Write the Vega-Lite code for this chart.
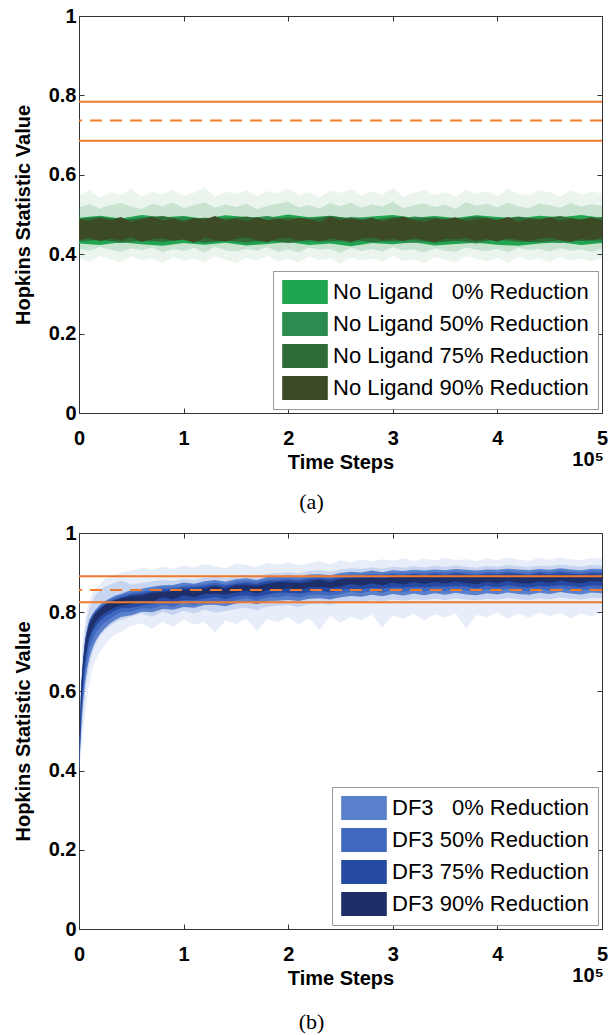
{
"$schema": "https://vega.github.io/schema/vega-lite/v6.json",
"background": "white",
"padding": {"left": 12, "top": 5, "right": 4, "bottom": 4},
"config": {
  "view": {"stroke": "#333", "strokeWidth": 1},
  "font": "Liberation Sans",
  "axis": {"grid": false, "domain": false, "tickSize": -5, "tickColor": "#333", "labelFont": "Liberation Sans", "labelFontSize": 20, "labelFontWeight": "bold", "labelColor": "#000", "titleFont": "Liberation Sans", "titleFontSize": 20, "titleFontWeight": "bold", "titleColor": "#000", "labelFlush": false, "labelOverlap": false},
  "legend": {"title": null, "orient": "bottom-right", "offset": 4, "symbolType": "M-1.9,-1H1.9V1H-1.9Z", "symbolSize": 576, "symbolStrokeWidth": 0, "symbolOpacity": 1, "symbolOffset": 11, "labelOffset": 16, "labelFont": "Liberation Sans", "labelFontSize": 22, "labelColor": "#000", "labelLimit": 400, "rowPadding": 8, "padding": 9, "strokeColor": "#999", "fillColor": "white"}
},
"bounds": "flush",
"spacing": 120,
"resolve": {"scale": {"color": "independent"}},
"datasets": {
"topS": [
{"g":"0","t":0,"lo":0.427,"hi":0.492},{"g":"0","t":0.2,"lo":0.423,"hi":0.497},{"g":"0","t":0.4,"lo":0.430,"hi":0.490},{"g":"0","t":0.6,"lo":0.425,"hi":0.499},{"g":"0","t":0.8,"lo":0.421,"hi":0.493},{"g":"0","t":1.0,"lo":0.428,"hi":0.496},{"g":"0","t":1.2,"lo":0.424,"hi":0.489},{"g":"0","t":1.4,"lo":0.429,"hi":0.498},{"g":"0","t":1.6,"lo":0.422,"hi":0.494},{"g":"0","t":1.8,"lo":0.426,"hi":0.491},{"g":"0","t":2.0,"lo":0.431,"hi":0.500},{"g":"0","t":2.2,"lo":0.423,"hi":0.493},{"g":"0","t":2.4,"lo":0.427,"hi":0.497},{"g":"0","t":2.6,"lo":0.420,"hi":0.490},{"g":"0","t":2.8,"lo":0.428,"hi":0.495},{"g":"0","t":3.0,"lo":0.425,"hi":0.499},{"g":"0","t":3.2,"lo":0.430,"hi":0.492},{"g":"0","t":3.4,"lo":0.422,"hi":0.496},{"g":"0","t":3.6,"lo":0.426,"hi":0.491},{"g":"0","t":3.8,"lo":0.429,"hi":0.498},{"g":"0","t":4.0,"lo":0.424,"hi":0.494},{"g":"0","t":4.2,"lo":0.421,"hi":0.490},{"g":"0","t":4.4,"lo":0.427,"hi":0.497},{"g":"0","t":4.6,"lo":0.430,"hi":0.493},{"g":"0","t":4.8,"lo":0.423,"hi":0.499},{"g":"0","t":5.0,"lo":0.428,"hi":0.492},
{"g":"50","t":0,"lo":0.431,"hi":0.490},{"g":"50","t":0.2,"lo":0.435,"hi":0.494},{"g":"50","t":0.4,"lo":0.428,"hi":0.487},{"g":"50","t":0.6,"lo":0.433,"hi":0.493},{"g":"50","t":0.8,"lo":0.430,"hi":0.489},{"g":"50","t":1.0,"lo":0.436,"hi":0.495},{"g":"50","t":1.2,"lo":0.429,"hi":0.486},{"g":"50","t":1.4,"lo":0.434,"hi":0.492},{"g":"50","t":1.6,"lo":0.427,"hi":0.490},{"g":"50","t":1.8,"lo":0.432,"hi":0.496},{"g":"50","t":2.0,"lo":0.435,"hi":0.488},{"g":"50","t":2.2,"lo":0.430,"hi":0.493},{"g":"50","t":2.4,"lo":0.433,"hi":0.487},{"g":"50","t":2.6,"lo":0.428,"hi":0.494},{"g":"50","t":2.8,"lo":0.436,"hi":0.490},{"g":"50","t":3.0,"lo":0.431,"hi":0.486},{"g":"50","t":3.2,"lo":0.429,"hi":0.495},{"g":"50","t":3.4,"lo":0.434,"hi":0.491},{"g":"50","t":3.6,"lo":0.432,"hi":0.488},{"g":"50","t":3.8,"lo":0.427,"hi":0.493},{"g":"50","t":4.0,"lo":0.435,"hi":0.489},{"g":"50","t":4.2,"lo":0.430,"hi":0.495},{"g":"50","t":4.4,"lo":0.433,"hi":0.487},{"g":"50","t":4.6,"lo":0.428,"hi":0.492},{"g":"50","t":4.8,"lo":0.434,"hi":0.490},{"g":"50","t":5.0,"lo":0.431,"hi":0.494},
{"g":"75","t":0,"lo":0.433,"hi":0.488},{"g":"75","t":0.2,"lo":0.437,"hi":0.494},{"g":"75","t":0.4,"lo":0.430,"hi":0.486},{"g":"75","t":0.6,"lo":0.435,"hi":0.491},{"g":"75","t":0.8,"lo":0.432,"hi":0.496},{"g":"75","t":1.0,"lo":0.438,"hi":0.487},{"g":"75","t":1.2,"lo":0.429,"hi":0.492},{"g":"75","t":1.4,"lo":0.434,"hi":0.489},{"g":"75","t":1.6,"lo":0.431,"hi":0.495},{"g":"75","t":1.8,"lo":0.436,"hi":0.485},{"g":"75","t":2.0,"lo":0.428,"hi":0.493},{"g":"75","t":2.2,"lo":0.435,"hi":0.488},{"g":"75","t":2.4,"lo":0.432,"hi":0.496},{"g":"75","t":2.6,"lo":0.437,"hi":0.490},{"g":"75","t":2.8,"lo":0.430,"hi":0.486},{"g":"75","t":3.0,"lo":0.433,"hi":0.494},{"g":"75","t":3.2,"lo":0.436,"hi":0.489},{"g":"75","t":3.4,"lo":0.429,"hi":0.492},{"g":"75","t":3.6,"lo":0.434,"hi":0.487},{"g":"75","t":3.8,"lo":0.431,"hi":0.495},{"g":"75","t":4.0,"lo":0.438,"hi":0.488},{"g":"75","t":4.2,"lo":0.432,"hi":0.493},{"g":"75","t":4.4,"lo":0.430,"hi":0.490},{"g":"75","t":4.6,"lo":0.435,"hi":0.496},{"g":"75","t":4.8,"lo":0.433,"hi":0.486},{"g":"75","t":5.0,"lo":0.436,"hi":0.491},
{"g":"90","t":0,"lo":0.436,"hi":0.489},{"g":"90","t":0.1,"lo":0.441,"hi":0.483},{"g":"90","t":0.2,"lo":0.433,"hi":0.492},{"g":"90","t":0.3,"lo":0.439,"hi":0.486},{"g":"90","t":0.4,"lo":0.435,"hi":0.494},{"g":"90","t":0.5,"lo":0.442,"hi":0.481},{"g":"90","t":0.6,"lo":0.431,"hi":0.488},{"g":"90","t":0.7,"lo":0.438,"hi":0.495},{"g":"90","t":0.8,"lo":0.440,"hi":0.484},{"g":"90","t":0.9,"lo":0.434,"hi":0.490},{"g":"90","t":1.0,"lo":0.437,"hi":0.482},{"g":"90","t":1.1,"lo":0.429,"hi":0.491},{"g":"90","t":1.2,"lo":0.441,"hi":0.487},{"g":"90","t":1.3,"lo":0.436,"hi":0.496},{"g":"90","t":1.4,"lo":0.432,"hi":0.485},{"g":"90","t":1.5,"lo":0.439,"hi":0.489},{"g":"90","t":1.6,"lo":0.443,"hi":0.483},{"g":"90","t":1.7,"lo":0.435,"hi":0.493},{"g":"90","t":1.8,"lo":0.430,"hi":0.486},{"g":"90","t":1.9,"lo":0.438,"hi":0.490},{"g":"90","t":2.0,"lo":0.441,"hi":0.484},{"g":"90","t":2.1,"lo":0.434,"hi":0.492},{"g":"90","t":2.2,"lo":0.437,"hi":0.488},{"g":"90","t":2.3,"lo":0.432,"hi":0.481},{"g":"90","t":2.4,"lo":0.440,"hi":0.494},{"g":"90","t":2.5,"lo":0.436,"hi":0.487},{"g":"90","t":2.6,"lo":0.431,"hi":0.490},{"g":"90","t":2.7,"lo":0.439,"hi":0.485},{"g":"90","t":2.8,"lo":0.442,"hi":0.492},{"g":"90","t":2.9,"lo":0.435,"hi":0.483},{"g":"90","t":3.0,"lo":0.438,"hi":0.489},{"g":"90","t":3.1,"lo":0.433,"hi":0.495},{"g":"90","t":3.2,"lo":0.440,"hi":0.486},{"g":"90","t":3.3,"lo":0.436,"hi":0.481},{"g":"90","t":3.4,"lo":0.430,"hi":0.490},{"g":"90","t":3.5,"lo":0.439,"hi":0.488},{"g":"90","t":3.6,"lo":0.437,"hi":0.493},{"g":"90","t":3.7,"lo":0.441,"hi":0.484},{"g":"90","t":3.8,"lo":0.434,"hi":0.487},{"g":"90","t":3.9,"lo":0.438,"hi":0.491},{"g":"90","t":4.0,"lo":0.432,"hi":0.485},{"g":"90","t":4.1,"lo":0.440,"hi":0.494},{"g":"90","t":4.2,"lo":0.436,"hi":0.482},{"g":"90","t":4.3,"lo":0.433,"hi":0.489},{"g":"90","t":4.4,"lo":0.439,"hi":0.486},{"g":"90","t":4.5,"lo":0.442,"hi":0.492},{"g":"90","t":4.6,"lo":0.435,"hi":0.484},{"g":"90","t":4.7,"lo":0.431,"hi":0.490},{"g":"90","t":4.8,"lo":0.438,"hi":0.487},{"g":"90","t":4.9,"lo":0.436,"hi":0.493},{"g":"90","t":5.0,"lo":0.440,"hi":0.485}
],
"topC": [
{"t":0,"a":0.392,"b":0.548,"c":0.414,"d":0.518},{"t":0.1,"a":0.381,"b":0.561,"c":0.409,"d":0.526},{"t":0.2,"a":0.396,"b":0.542,"c":0.418,"d":0.515},{"t":0.3,"a":0.387,"b":0.556,"c":0.411,"d":0.523},{"t":0.4,"a":0.379,"b":0.549,"c":0.406,"d":0.529},{"t":0.5,"a":0.394,"b":0.565,"c":0.415,"d":0.520},{"t":0.6,"a":0.385,"b":0.545,"c":0.410,"d":0.514},{"t":0.7,"a":0.390,"b":0.558,"c":0.417,"d":0.527},{"t":0.8,"a":0.377,"b":0.551,"c":0.405,"d":0.521},{"t":0.9,"a":0.393,"b":0.563,"c":0.413,"d":0.530},{"t":1.0,"a":0.384,"b":0.547,"c":0.408,"d":0.516},{"t":1.1,"a":0.389,"b":0.555,"c":0.416,"d":0.524},{"t":1.2,"a":0.380,"b":0.568,"c":0.404,"d":0.531},{"t":1.3,"a":0.395,"b":0.544,"c":0.419,"d":0.517},{"t":1.4,"a":0.386,"b":0.557,"c":0.410,"d":0.525},{"t":1.5,"a":0.378,"b":0.552,"c":0.407,"d":0.519},{"t":1.6,"a":0.391,"b":0.562,"c":0.414,"d":0.528},{"t":1.7,"a":0.383,"b":0.546,"c":0.409,"d":0.513},{"t":1.8,"a":0.397,"b":0.559,"c":0.418,"d":0.522},{"t":1.9,"a":0.382,"b":0.553,"c":0.406,"d":0.527},{"t":2.0,"a":0.388,"b":0.566,"c":0.412,"d":0.532},{"t":2.1,"a":0.379,"b":0.548,"c":0.405,"d":0.518},{"t":2.2,"a":0.394,"b":0.556,"c":0.417,"d":0.524},{"t":2.3,"a":0.385,"b":0.543,"c":0.411,"d":0.515},{"t":2.4,"a":0.390,"b":0.561,"c":0.414,"d":0.529},{"t":2.5,"a":0.376,"b":0.554,"c":0.403,"d":0.521},{"t":2.6,"a":0.392,"b":0.564,"c":0.416,"d":0.530},{"t":2.7,"a":0.384,"b":0.547,"c":0.408,"d":0.517},{"t":2.8,"a":0.389,"b":0.558,"c":0.413,"d":0.526},{"t":2.9,"a":0.381,"b":0.550,"c":0.407,"d":0.520},{"t":3.0,"a":0.396,"b":0.567,"c":0.418,"d":0.533},{"t":3.1,"a":0.383,"b":0.545,"c":0.410,"d":0.516},{"t":3.2,"a":0.387,"b":0.555,"c":0.412,"d":0.523},{"t":3.3,"a":0.378,"b":0.562,"c":0.404,"d":0.528},{"t":3.4,"a":0.393,"b":0.549,"c":0.415,"d":0.519},{"t":3.5,"a":0.386,"b":0.557,"c":0.409,"d":0.525},{"t":3.6,"a":0.380,"b":0.544,"c":0.406,"d":0.514},{"t":3.7,"a":0.395,"b":0.563,"c":0.417,"d":0.531},{"t":3.8,"a":0.388,"b":0.552,"c":0.411,"d":0.522},{"t":3.9,"a":0.382,"b":0.559,"c":0.408,"d":0.527},{"t":4.0,"a":0.391,"b":0.546,"c":0.414,"d":0.518},{"t":4.1,"a":0.377,"b":0.565,"c":0.405,"d":0.530},{"t":4.2,"a":0.394,"b":0.553,"c":0.416,"d":0.521},{"t":4.3,"a":0.385,"b":0.548,"c":0.410,"d":0.516},{"t":4.4,"a":0.390,"b":0.561,"c":0.413,"d":0.528},{"t":4.5,"a":0.379,"b":0.556,"c":0.407,"d":0.524},{"t":4.6,"a":0.393,"b":0.545,"c":0.415,"d":0.517},{"t":4.7,"a":0.384,"b":0.562,"c":0.409,"d":0.529},{"t":4.8,"a":0.389,"b":0.550,"c":0.412,"d":0.520},{"t":4.9,"a":0.381,"b":0.558,"c":0.406,"d":0.526},{"t":5.0,"a":0.392,"b":0.553,"c":0.414,"d":0.522}
],
"botS": [
{"g":"0","t":0,"lo":0.395,"hi":0.405},{"g":"0","t":0.02,"lo":0.50,"hi":0.60},{"g":"0","t":0.04,"lo":0.575,"hi":0.68},{"g":"0","t":0.06,"lo":0.625,"hi":0.73},{"g":"0","t":0.08,"lo":0.66,"hi":0.76},{"g":"0","t":0.10,"lo":0.685,"hi":0.78},{"g":"0","t":0.13,"lo":0.71,"hi":0.795},{"g":"0","t":0.16,"lo":0.728,"hi":0.807},{"g":"0","t":0.20,"lo":0.745,"hi":0.818},{"g":"0","t":0.25,"lo":0.76,"hi":0.828},{"g":"0","t":0.30,"lo":0.772,"hi":0.836},{"g":"0","t":0.35,"lo":0.781,"hi":0.842},{"g":"0","t":0.40,"lo":0.788,"hi":0.846},
{"g":"0","t":0.5,"lo":0.792,"hi":0.856},{"g":"0","t":0.6,"lo":0.801,"hi":0.859},{"g":"0","t":0.7,"lo":0.800,"hi":0.864},{"g":"0","t":0.8,"lo":0.808,"hi":0.868},{"g":"0","t":0.9,"lo":0.806,"hi":0.869},{"g":"0","t":1.0,"lo":0.813,"hi":0.875},{"g":"0","t":1.1,"lo":0.811,"hi":0.872},{"g":"0","t":1.2,"lo":0.818,"hi":0.878},{"g":"0","t":1.3,"lo":0.819,"hi":0.881},{"g":"0","t":1.4,"lo":0.815,"hi":0.877},{"g":"0","t":1.5,"lo":0.822,"hi":0.883},{"g":"0","t":1.6,"lo":0.825,"hi":0.886},{"g":"0","t":1.7,"lo":0.820,"hi":0.881},{"g":"0","t":1.8,"lo":0.828,"hi":0.889},{"g":"0","t":1.9,"lo":0.829,"hi":0.890},{"g":"0","t":2.0,"lo":0.831,"hi":0.893},{"g":"0","t":2.1,"lo":0.828,"hi":0.889},{"g":"0","t":2.2,"lo":0.834,"hi":0.895},{"g":"0","t":2.3,"lo":0.835,"hi":0.896},{"g":"0","t":2.4,"lo":0.832,"hi":0.893},{"g":"0","t":2.5,"lo":0.838,"hi":0.899},{"g":"0","t":2.6,"lo":0.841,"hi":0.902},{"g":"0","t":2.7,"lo":0.839,"hi":0.900},{"g":"0","t":2.8,"lo":0.844,"hi":0.905},{"g":"0","t":2.9,"lo":0.840,"hi":0.901},{"g":"0","t":3.0,"lo":0.846,"hi":0.906},{"g":"0","t":3.1,"lo":0.842,"hi":0.904},{"g":"0","t":3.2,"lo":0.847,"hi":0.907},{"g":"0","t":3.3,"lo":0.843,"hi":0.905},{"g":"0","t":3.4,"lo":0.848,"hi":0.908},{"g":"0","t":3.5,"lo":0.844,"hi":0.906},{"g":"0","t":3.6,"lo":0.849,"hi":0.909},{"g":"0","t":3.7,"lo":0.845,"hi":0.907},{"g":"0","t":3.8,"lo":0.843,"hi":0.905},{"g":"0","t":3.9,"lo":0.848,"hi":0.908},{"g":"0","t":4.0,"lo":0.845,"hi":0.907},{"g":"0","t":4.1,"lo":0.850,"hi":0.910},{"g":"0","t":4.2,"lo":0.846,"hi":0.908},{"g":"0","t":4.3,"lo":0.844,"hi":0.906},{"g":"0","t":4.4,"lo":0.849,"hi":0.909},{"g":"0","t":4.5,"lo":0.846,"hi":0.907},{"g":"0","t":4.6,"lo":0.851,"hi":0.911},{"g":"0","t":4.7,"lo":0.847,"hi":0.908},{"g":"0","t":4.8,"lo":0.845,"hi":0.906},{"g":"0","t":4.9,"lo":0.850,"hi":0.910},{"g":"0","t":5.0,"lo":0.848,"hi":0.909},
{"g":"50","t":0,"lo":0.396,"hi":0.404},{"g":"50","t":0.02,"lo":0.52,"hi":0.61},{"g":"50","t":0.04,"lo":0.60,"hi":0.685},{"g":"50","t":0.06,"lo":0.65,"hi":0.735},{"g":"50","t":0.08,"lo":0.685,"hi":0.76},{"g":"50","t":0.10,"lo":0.71,"hi":0.78},{"g":"50","t":0.13,"lo":0.73,"hi":0.795},{"g":"50","t":0.16,"lo":0.748,"hi":0.805},{"g":"50","t":0.20,"lo":0.762,"hi":0.815},{"g":"50","t":0.25,"lo":0.775,"hi":0.825},{"g":"50","t":0.30,"lo":0.785,"hi":0.832},{"g":"50","t":0.35,"lo":0.793,"hi":0.838},{"g":"50","t":0.40,"lo":0.80,"hi":0.842},
{"g":"50","t":0.5,"lo":0.801,"hi":0.850},{"g":"50","t":0.6,"lo":0.810,"hi":0.853},{"g":"50","t":0.7,"lo":0.809,"hi":0.857},{"g":"50","t":0.8,"lo":0.819,"hi":0.862},{"g":"50","t":0.9,"lo":0.814,"hi":0.863},{"g":"50","t":1.0,"lo":0.824,"hi":0.867},{"g":"50","t":1.1,"lo":0.819,"hi":0.868},{"g":"50","t":1.2,"lo":0.827,"hi":0.870},{"g":"50","t":1.3,"lo":0.828,"hi":0.875},{"g":"50","t":1.4,"lo":0.826,"hi":0.870},{"g":"50","t":1.5,"lo":0.830,"hi":0.877},{"g":"50","t":1.6,"lo":0.836,"hi":0.879},{"g":"50","t":1.7,"lo":0.829,"hi":0.876},{"g":"50","t":1.8,"lo":0.838,"hi":0.882},{"g":"50","t":1.9,"lo":0.838,"hi":0.885},{"g":"50","t":2.0,"lo":0.842,"hi":0.885},{"g":"50","t":2.1,"lo":0.837,"hi":0.884},{"g":"50","t":2.2,"lo":0.844,"hi":0.887},{"g":"50","t":2.3,"lo":0.844,"hi":0.891},{"g":"50","t":2.4,"lo":0.843,"hi":0.886},{"g":"50","t":2.5,"lo":0.846,"hi":0.893},{"g":"50","t":2.6,"lo":0.852,"hi":0.895},{"g":"50","t":2.7,"lo":0.848,"hi":0.895},{"g":"50","t":2.8,"lo":0.854,"hi":0.897},{"g":"50","t":2.9,"lo":0.849,"hi":0.896},{"g":"50","t":3.0,"lo":0.856,"hi":0.899},{"g":"50","t":3.1,"lo":0.851,"hi":0.898},{"g":"50","t":3.2,"lo":0.857,"hi":0.900},{"g":"50","t":3.3,"lo":0.852,"hi":0.899},{"g":"50","t":3.4,"lo":0.858,"hi":0.901},{"g":"50","t":3.5,"lo":0.853,"hi":0.900},{"g":"50","t":3.6,"lo":0.859,"hi":0.902},{"g":"50","t":3.7,"lo":0.854,"hi":0.901},{"g":"50","t":3.8,"lo":0.852,"hi":0.898},{"g":"50","t":3.9,"lo":0.858,"hi":0.902},{"g":"50","t":4.0,"lo":0.854,"hi":0.900},{"g":"50","t":4.1,"lo":0.860,"hi":0.904},{"g":"50","t":4.2,"lo":0.855,"hi":0.901},{"g":"50","t":4.3,"lo":0.853,"hi":0.899},{"g":"50","t":4.4,"lo":0.859,"hi":0.903},{"g":"50","t":4.5,"lo":0.855,"hi":0.901},{"g":"50","t":4.6,"lo":0.861,"hi":0.905},{"g":"50","t":4.7,"lo":0.856,"hi":0.902},{"g":"50","t":4.8,"lo":0.854,"hi":0.900},{"g":"50","t":4.9,"lo":0.860,"hi":0.904},{"g":"50","t":5.0,"lo":0.858,"hi":0.903},
{"g":"75","t":0,"lo":0.397,"hi":0.403},{"g":"75","t":0.02,"lo":0.54,"hi":0.61},{"g":"75","t":0.04,"lo":0.62,"hi":0.68},{"g":"75","t":0.06,"lo":0.67,"hi":0.73},{"g":"75","t":0.08,"lo":0.705,"hi":0.755},{"g":"75","t":0.10,"lo":0.73,"hi":0.775},{"g":"75","t":0.13,"lo":0.75,"hi":0.79},{"g":"75","t":0.16,"lo":0.765,"hi":0.80},{"g":"75","t":0.20,"lo":0.778,"hi":0.81},{"g":"75","t":0.25,"lo":0.79,"hi":0.82},{"g":"75","t":0.30,"lo":0.797,"hi":0.828},{"g":"75","t":0.35,"lo":0.805,"hi":0.833},{"g":"75","t":0.40,"lo":0.81,"hi":0.837},
{"g":"75","t":0.5,"lo":0.811,"hi":0.845},{"g":"75","t":0.6,"lo":0.817,"hi":0.848},{"g":"75","t":0.7,"lo":0.821,"hi":0.853},{"g":"75","t":0.8,"lo":0.826,"hi":0.857},{"g":"75","t":0.9,"lo":0.825,"hi":0.858},{"g":"75","t":1.0,"lo":0.831,"hi":0.862},{"g":"75","t":1.1,"lo":0.830,"hi":0.863},{"g":"75","t":1.2,"lo":0.834,"hi":0.866},{"g":"75","t":1.3,"lo":0.839,"hi":0.870},{"g":"75","t":1.4,"lo":0.833,"hi":0.866},{"g":"75","t":1.5,"lo":0.840,"hi":0.872},{"g":"75","t":1.6,"lo":0.843,"hi":0.874},{"g":"75","t":1.7,"lo":0.839,"hi":0.871},{"g":"75","t":1.8,"lo":0.845,"hi":0.878},{"g":"75","t":1.9,"lo":0.849,"hi":0.879},{"g":"75","t":2.0,"lo":0.849,"hi":0.881},{"g":"75","t":2.1,"lo":0.847,"hi":0.879},{"g":"75","t":2.2,"lo":0.851,"hi":0.884},{"g":"75","t":2.3,"lo":0.855,"hi":0.885},{"g":"75","t":2.4,"lo":0.850,"hi":0.883},{"g":"75","t":2.5,"lo":0.857,"hi":0.887},{"g":"75","t":2.6,"lo":0.859,"hi":0.890},{"g":"75","t":2.7,"lo":0.858,"hi":0.890},{"g":"75","t":2.8,"lo":0.861,"hi":0.893},{"g":"75","t":2.9,"lo":0.860,"hi":0.891},{"g":"75","t":3.0,"lo":0.863,"hi":0.895},{"g":"75","t":3.1,"lo":0.862,"hi":0.892},{"g":"75","t":3.2,"lo":0.864,"hi":0.897},{"g":"75","t":3.3,"lo":0.863,"hi":0.893},{"g":"75","t":3.4,"lo":0.865,"hi":0.898},{"g":"75","t":3.5,"lo":0.864,"hi":0.894},{"g":"75","t":3.6,"lo":0.866,"hi":0.899},{"g":"75","t":3.7,"lo":0.865,"hi":0.895},{"g":"75","t":3.8,"lo":0.861,"hi":0.894},{"g":"75","t":3.9,"lo":0.867,"hi":0.897},{"g":"75","t":4.0,"lo":0.863,"hi":0.896},{"g":"75","t":4.1,"lo":0.868,"hi":0.899},{"g":"75","t":4.2,"lo":0.864,"hi":0.897},{"g":"75","t":4.3,"lo":0.863,"hi":0.894},{"g":"75","t":4.4,"lo":0.866,"hi":0.899},{"g":"75","t":4.5,"lo":0.865,"hi":0.896},{"g":"75","t":4.6,"lo":0.868,"hi":0.900},{"g":"75","t":4.7,"lo":0.866,"hi":0.897},{"g":"75","t":4.8,"lo":0.863,"hi":0.896},{"g":"75","t":4.9,"lo":0.868,"hi":0.899},{"g":"75","t":5.0,"lo":0.866,"hi":0.898},
{"g":"90","t":0,"lo":0.398,"hi":0.402},{"g":"90","t":0.02,"lo":0.56,"hi":0.60},{"g":"90","t":0.04,"lo":0.645,"hi":0.675},{"g":"90","t":0.06,"lo":0.69,"hi":0.72},{"g":"90","t":0.08,"lo":0.72,"hi":0.75},{"g":"90","t":0.10,"lo":0.742,"hi":0.768},{"g":"90","t":0.13,"lo":0.76,"hi":0.784},{"g":"90","t":0.16,"lo":0.776,"hi":0.798},{"g":"90","t":0.20,"lo":0.788,"hi":0.808},{"g":"90","t":0.25,"lo":0.799,"hi":0.818},{"g":"90","t":0.30,"lo":0.806,"hi":0.825},{"g":"90","t":0.35,"lo":0.813,"hi":0.831},{"g":"90","t":0.40,"lo":0.817,"hi":0.835},
{"g":"90","t":0.5,"lo":0.821,"hi":0.840},{"g":"90","t":0.6,"lo":0.829,"hi":0.843},{"g":"90","t":0.7,"lo":0.827,"hi":0.849},{"g":"90","t":0.8,"lo":0.838,"hi":0.851},{"g":"90","t":0.9,"lo":0.833,"hi":0.853},{"g":"90","t":1.0,"lo":0.843,"hi":0.857},{"g":"90","t":1.1,"lo":0.838,"hi":0.858},{"g":"90","t":1.2,"lo":0.846,"hi":0.860},{"g":"90","t":1.3,"lo":0.847,"hi":0.866},{"g":"90","t":1.4,"lo":0.845,"hi":0.859},{"g":"90","t":1.5,"lo":0.849,"hi":0.868},{"g":"90","t":1.6,"lo":0.855,"hi":0.869},{"g":"90","t":1.7,"lo":0.847,"hi":0.866},{"g":"90","t":1.8,"lo":0.857,"hi":0.871},{"g":"90","t":1.9,"lo":0.857,"hi":0.876},{"g":"90","t":2.0,"lo":0.861,"hi":0.875},{"g":"90","t":2.1,"lo":0.855,"hi":0.874},{"g":"90","t":2.2,"lo":0.863,"hi":0.877},{"g":"90","t":2.3,"lo":0.863,"hi":0.882},{"g":"90","t":2.4,"lo":0.862,"hi":0.876},{"g":"90","t":2.5,"lo":0.865,"hi":0.883},{"g":"90","t":2.6,"lo":0.871,"hi":0.885},{"g":"90","t":2.7,"lo":0.867,"hi":0.886},{"g":"90","t":2.8,"lo":0.873,"hi":0.887},{"g":"90","t":2.9,"lo":0.868,"hi":0.886},{"g":"90","t":3.0,"lo":0.875,"hi":0.889},{"g":"90","t":3.1,"lo":0.870,"hi":0.888},{"g":"90","t":3.2,"lo":0.876,"hi":0.890},{"g":"90","t":3.3,"lo":0.871,"hi":0.889},{"g":"90","t":3.4,"lo":0.877,"hi":0.891},{"g":"90","t":3.5,"lo":0.872,"hi":0.890},{"g":"90","t":3.6,"lo":0.878,"hi":0.892},{"g":"90","t":3.7,"lo":0.873,"hi":0.891},{"g":"90","t":3.8,"lo":0.871,"hi":0.888},{"g":"90","t":3.9,"lo":0.877,"hi":0.891},{"g":"90","t":4.0,"lo":0.873,"hi":0.891},{"g":"90","t":4.1,"lo":0.879,"hi":0.893},{"g":"90","t":4.2,"lo":0.874,"hi":0.892},{"g":"90","t":4.3,"lo":0.872,"hi":0.889},{"g":"90","t":4.4,"lo":0.878,"hi":0.892},{"g":"90","t":4.5,"lo":0.874,"hi":0.892},{"g":"90","t":4.6,"lo":0.880,"hi":0.894},{"g":"90","t":4.7,"lo":0.875,"hi":0.893},{"g":"90","t":4.8,"lo":0.873,"hi":0.890},{"g":"90","t":4.9,"lo":0.879,"hi":0.893},{"g":"90","t":5.0,"lo":0.877,"hi":0.892}
],
"botC": [
{"t":0,"a":0.39,"b":0.41,"c":0.395,"d":0.405},{"t":0.02,"a":0.44,"b":0.66,"c":0.48,"d":0.63},{"t":0.04,"a":0.50,"b":0.74,"c":0.55,"d":0.71},{"t":0.06,"a":0.55,"b":0.78,"c":0.60,"d":0.76},{"t":0.08,"a":0.59,"b":0.81,"c":0.64,"d":0.79},{"t":0.10,"a":0.62,"b":0.83,"c":0.67,"d":0.81},{"t":0.13,"a":0.66,"b":0.85,"c":0.70,"d":0.83},{"t":0.16,"a":0.68,"b":0.86,"c":0.72,"d":0.845},{"t":0.20,"a":0.70,"b":0.87,"c":0.74,"d":0.855},{"t":0.25,"a":0.72,"b":0.885,"c":0.755,"d":0.865},{"t":0.30,"a":0.735,"b":0.89,"c":0.765,"d":0.87},{"t":0.35,"a":0.745,"b":0.895,"c":0.775,"d":0.875},{"t":0.40,"a":0.75,"b":0.90,"c":0.78,"d":0.88},
{"t":0.5,"a":0.765,"b":0.905,"c":0.790,"d":0.870},{"t":0.6,"a":0.772,"b":0.912,"c":0.797,"d":0.874},{"t":0.7,"a":0.758,"b":0.908,"c":0.788,"d":0.878},{"t":0.8,"a":0.776,"b":0.915,"c":0.801,"d":0.881},{"t":0.9,"a":0.763,"b":0.910,"c":0.793,"d":0.879},{"t":1.0,"a":0.781,"b":0.918,"c":0.804,"d":0.884},{"t":1.1,"a":0.768,"b":0.913,"c":0.797,"d":0.882},{"t":1.2,"a":0.775,"b":0.921,"c":0.806,"d":0.887},{"t":1.3,"a":0.748,"b":0.916,"c":0.799,"d":0.890},{"t":1.4,"a":0.779,"b":0.911,"c":0.803,"d":0.886},{"t":1.5,"a":0.770,"b":0.923,"c":0.808,"d":0.892},{"t":1.6,"a":0.784,"b":0.919,"c":0.812,"d":0.895},{"t":1.7,"a":0.752,"b":0.914,"c":0.805,"d":0.890},{"t":1.8,"a":0.782,"b":0.925,"c":0.814,"d":0.897},{"t":1.9,"a":0.774,"b":0.920,"c":0.816,"d":0.899},{"t":2.0,"a":0.787,"b":0.927,"c":0.818,"d":0.901},{"t":2.1,"a":0.769,"b":0.918,"c":0.813,"d":0.898},{"t":2.2,"a":0.785,"b":0.924,"c":0.820,"d":0.904},{"t":2.3,"a":0.755,"b":0.929,"c":0.822,"d":0.906},{"t":2.4,"a":0.791,"b":0.922,"c":0.819,"d":0.902},{"t":2.5,"a":0.773,"b":0.931,"c":0.824,"d":0.908},{"t":2.6,"a":0.789,"b":0.926,"c":0.828,"d":0.911},{"t":2.7,"a":0.780,"b":0.933,"c":0.826,"d":0.909},{"t":2.8,"a":0.794,"b":0.928,"c":0.830,"d":0.913},{"t":2.9,"a":0.760,"b":0.934,"c":0.827,"d":0.910},{"t":3.0,"a":0.792,"b":0.930,"c":0.832,"d":0.915},{"t":3.1,"a":0.783,"b":0.936,"c":0.829,"d":0.912},{"t":3.2,"a":0.796,"b":0.929,"c":0.833,"d":0.916},{"t":3.3,"a":0.779,"b":0.935,"c":0.830,"d":0.913},{"t":3.4,"a":0.795,"b":0.931,"c":0.834,"d":0.917},{"t":3.5,"a":0.786,"b":0.937,"c":0.831,"d":0.914},{"t":3.6,"a":0.798,"b":0.932,"c":0.835,"d":0.918},{"t":3.7,"a":0.758,"b":0.934,"c":0.832,"d":0.915},{"t":3.8,"a":0.793,"b":0.929,"c":0.830,"d":0.912},{"t":3.9,"a":0.788,"b":0.936,"c":0.834,"d":0.917},{"t":4.0,"a":0.799,"b":0.931,"c":0.832,"d":0.915},{"t":4.1,"a":0.784,"b":0.938,"c":0.836,"d":0.919},{"t":4.2,"a":0.797,"b":0.933,"c":0.833,"d":0.916},{"t":4.3,"a":0.786,"b":0.930,"c":0.831,"d":0.914},{"t":4.4,"a":0.800,"b":0.937,"c":0.835,"d":0.918},{"t":4.5,"a":0.789,"b":0.932,"c":0.833,"d":0.916},{"t":4.6,"a":0.798,"b":0.939,"c":0.837,"d":0.920},{"t":4.7,"a":0.785,"b":0.934,"c":0.834,"d":0.917},{"t":4.8,"a":0.796,"b":0.931,"c":0.832,"d":0.915},{"t":4.9,"a":0.790,"b":0.937,"c":0.836,"d":0.919},{"t":5.0,"a":0.799,"b":0.935,"c":0.835,"d":0.918}
],
"refsTop": [{"v":0.784,"k":"solid"},{"v":0.686,"k":"solid"},{"v":0.737,"k":"dash"}],
"refsBot": [{"v":0.891,"k":"solid"},{"v":0.825,"k":"solid"},{"v":0.856,"k":"dash"}]
},
"vconcat": [
{
  "width": 523, "height": 397,
  "title": {"text": "(a)", "orient": "bottom", "anchor": "middle", "font": "Liberation Serif", "fontSize": 22, "fontWeight": "normal", "color": "#000", "dx": -29, "offset": 20},
  "layer": [
    {"data": {"name": "topC"}, "mark": {"type": "area", "color": "#3a9c5c", "opacity": 0.1},
     "encoding": {
       "x": {"field": "t", "type": "quantitative", "scale": {"domain": [0, 5], "nice": false}, "axis": {"orient": "bottom", "title": "Time Steps", "values": [0,1,2,3,4,5], "format": "d", "labelPadding": 20, "titlePadding": 4}},
       "y": {"field": "a", "type": "quantitative", "scale": {"domain": [0, 1], "nice": false}, "axis": {"orient": "left", "title": "Hopkins Statistic Value", "values": [0,0.2,0.4,0.6,0.8,1], "format": "~g", "labelPadding": 8, "titlePadding": 15}},
       "y2": {"field": "b"}}},
    {"data": {"name": "topC"}, "mark": {"type": "area", "color": "#3a9c5c", "opacity": 0.2},
     "encoding": {
       "x": {"field": "t", "type": "quantitative", "scale": {"domain": [0, 5], "nice": false}, "axis": null},
       "y": {"field": "c", "type": "quantitative", "scale": {"domain": [0, 1], "nice": false}, "axis": null},
       "y2": {"field": "d"}}},
    {"data": {"name": "topS"}, "mark": {"type": "area", "opacity": 1},
     "encoding": {
       "x": {"field": "t", "type": "quantitative", "scale": {"domain": [0, 5], "nice": false}, "axis": null},
       "y": {"field": "lo", "type": "quantitative", "stack": null, "scale": {"domain": [0, 1], "nice": false}, "axis": null},
       "y2": {"field": "hi"},
       "color": {"field": "g", "type": "nominal", "scale": {"domain": ["0","50","75","90"], "range": ["#1fa64f","#2c8b4e","#2f6b37","#3d4a26"]},
         "legend": {"labelExpr": "'No Ligand ' + (datum.value == '0' ? '\u2007' : '') + datum.value + '% Reduction'"}}}},
    {"data": {"name": "refsTop"}, "mark": {"type": "rule", "color": "#f07b2c", "strokeWidth": 2},
     "encoding": {
       "y": {"field": "v", "type": "quantitative", "scale": {"domain": [0, 1], "nice": false}, "axis": null},
       "strokeDash": {"field": "k", "type": "nominal", "scale": {"domain": ["solid","dash"], "range": [[1,0],[12,8]]}, "legend": null}}},
    {"data": {"name": "topC"}, "mark": {"type": "point", "opacity": 0},
     "encoding": {
       "x": {"field": "t", "type": "quantitative", "scale": {"domain": [0, 5], "nice": false}, "axis": {"orient": "top", "title": null, "labels": false, "values": [0,1,2,3,4,5]}},
       "y": {"field": "a", "type": "quantitative", "scale": {"domain": [0, 1], "nice": false}, "axis": {"orient": "right", "title": null, "labels": false, "values": [0,0.2,0.4,0.6,0.8,1]}}}},
    {"data": {"values": [{"s": "10\u2075"}]}, "mark": {"type": "text", "align": "right", "baseline": "alphabetic", "dx": 2, "dy": 53, "fontSize": 20, "fontWeight": "bold", "font": "Liberation Sans", "color": "#000"},
     "encoding": {
       "x": {"datum": 5, "type": "quantitative", "scale": {"domain": [0, 5], "nice": false}, "axis": null},
       "y": {"datum": 0, "type": "quantitative", "scale": {"domain": [0, 1], "nice": false}, "axis": null},
       "text": {"field": "s"}}}
  ]
},
{
  "width": 523, "height": 396,
  "title": {"text": "(b)", "orient": "bottom", "anchor": "middle", "font": "Liberation Serif", "fontSize": 22, "fontWeight": "normal", "color": "#000", "dx": -29, "offset": 24},
  "layer": [
    {"data": {"name": "botC"}, "mark": {"type": "area", "color": "#6a8fd9", "opacity": 0.16},
     "encoding": {
       "x": {"field": "t", "type": "quantitative", "scale": {"domain": [0, 5], "nice": false}, "axis": {"orient": "bottom", "title": "Time Steps", "values": [0,1,2,3,4,5], "format": "d", "labelPadding": 20, "titlePadding": 4}},
       "y": {"field": "a", "type": "quantitative", "scale": {"domain": [0, 1], "nice": false}, "axis": {"orient": "left", "title": "Hopkins Statistic Value", "values": [0,0.2,0.4,0.6,0.8,1], "format": "~g", "labelPadding": 8, "titlePadding": 15}},
       "y2": {"field": "b"}}},
    {"data": {"name": "botC"}, "mark": {"type": "area", "color": "#6a8fd9", "opacity": 0.25},
     "encoding": {
       "x": {"field": "t", "type": "quantitative", "scale": {"domain": [0, 5], "nice": false}, "axis": null},
       "y": {"field": "c", "type": "quantitative", "scale": {"domain": [0, 1], "nice": false}, "axis": null},
       "y2": {"field": "d"}}},
    {"data": {"name": "botS"}, "mark": {"type": "area", "opacity": 1},
     "encoding": {
       "x": {"field": "t", "type": "quantitative", "scale": {"domain": [0, 5], "nice": false}, "axis": null},
       "y": {"field": "lo", "type": "quantitative", "stack": null, "scale": {"domain": [0, 1], "nice": false}, "axis": null},
       "y2": {"field": "hi"},
       "color": {"field": "g", "type": "nominal", "scale": {"domain": ["0","50","75","90"], "range": ["#5a7fcb","#4068bf","#2649a1","#1d2e68"]},
         "legend": {"labelExpr": "'DF3 ' + (datum.value == '0' ? '\u2007' : '') + datum.value + '% Reduction'"}}}},
    {"data": {"name": "refsBot"}, "mark": {"type": "rule", "color": "#f07b2c", "strokeWidth": 2},
     "encoding": {
       "y": {"field": "v", "type": "quantitative", "scale": {"domain": [0, 1], "nice": false}, "axis": null},
       "strokeDash": {"field": "k", "type": "nominal", "scale": {"domain": ["solid","dash"], "range": [[1,0],[12,8]]}, "legend": null}}},
    {"data": {"name": "botC"}, "mark": {"type": "point", "opacity": 0},
     "encoding": {
       "x": {"field": "t", "type": "quantitative", "scale": {"domain": [0, 5], "nice": false}, "axis": {"orient": "top", "title": null, "labels": false, "values": [0,1,2,3,4,5]}},
       "y": {"field": "a", "type": "quantitative", "scale": {"domain": [0, 1], "nice": false}, "axis": {"orient": "right", "title": null, "labels": false, "values": [0,0.2,0.4,0.6,0.8,1]}}}},
    {"data": {"values": [{"s": "10\u2075"}]}, "mark": {"type": "text", "align": "right", "baseline": "alphabetic", "dx": 2, "dy": 53, "fontSize": 20, "fontWeight": "bold", "font": "Liberation Sans", "color": "#000"},
     "encoding": {
       "x": {"datum": 5, "type": "quantitative", "scale": {"domain": [0, 5], "nice": false}, "axis": null},
       "y": {"datum": 0, "type": "quantitative", "scale": {"domain": [0, 1], "nice": false}, "axis": null},
       "text": {"field": "s"}}}
  ]
}
]
}
